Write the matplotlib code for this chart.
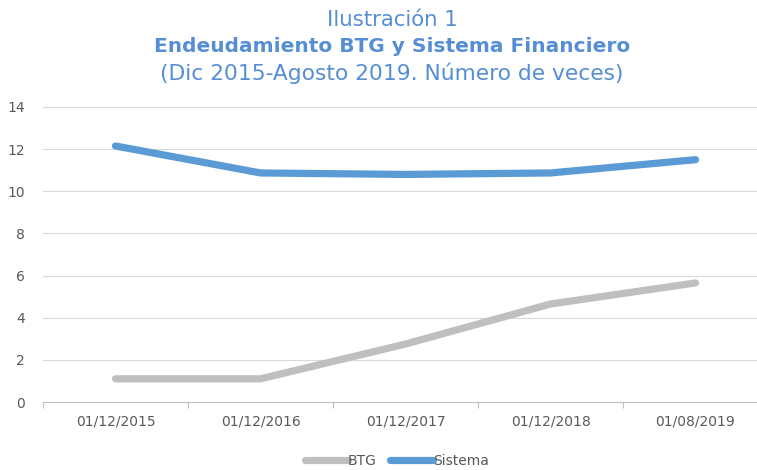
import numpy as np
from matplotlib import pyplot as plt

fechas = ["01/12/2015", "01/12/2016", "01/12/2017", "01/12/2018", "01/08/2019"]
btg = [1.1, 1.1, 2.75, 4.65, 5.65]
sistema = [12.15, 10.87, 10.8, 10.87, 11.5]

titulo_color = "#558ED5"

fig = plt.figure(figsize=(7.57, 4.70), dpi=100)
ax = fig.add_axes([43 / 757, 68 / 470, 725 / 757, 295 / 470])

x = np.arange(len(fechas))
ax.plot(x, btg, color="#BFBFBF", lw=5.2, solid_capstyle="round", label="BTG")
ax.plot(x, sistema, color="#5B9BD5", lw=5.2, solid_capstyle="round", label="Sistema")

ax.set_xlim(-0.5, len(fechas) - 0.5)
ax.set_ylim(0, 14)
ax.set_yticks(range(0, 15, 2))
ax.set_xticks(x)
ax.set_xticklabels(fechas)
ax.set_xticks(np.arange(-0.5, len(fechas), 1), minor=True)
ax.tick_params(axis="x", which="major", length=0, pad=9, labelsize=10, labelcolor="#595959")
ax.tick_params(axis="x", which="minor", length=4, color="#BFBFBF", width=0.8)
ax.tick_params(axis="y", length=0, pad=13, labelsize=10, labelcolor="#595959")
ax.grid(axis="y", color="#D9D9D9", lw=0.8)
ax.set_axisbelow(True)
for s in ["top", "right", "left"]:
    ax.spines[s].set_visible(False)
ax.spines["bottom"].set_color("#BFBFBF")

cx = 392 / 757
fig.text(cx, 1 - 20 / 470, "Ilustración 1", ha="center", va="center",
         fontsize=15.3, color=titulo_color)
fig.text(cx, 1 - 47 / 470, "Endeudamiento BTG y Sistema Financiero", ha="center",
         va="center", fontsize=14.5, fontweight="bold", color=titulo_color)
fig.text(cx, 1 - 73 / 470, "(Dic 2015-Agosto 2019. Número de veces)", ha="center",
         va="center", fontsize=15.7, color=titulo_color)

ax.legend(loc="center", bbox_to_anchor=((397 - 43) / 725, -0.2), ncol=2, frameon=False,
          fontsize=10, labelcolor="#595959", handlelength=3.1, handletextpad=0.0,
          columnspacing=0.95)

fig.savefig("out.png", dpi=100)
